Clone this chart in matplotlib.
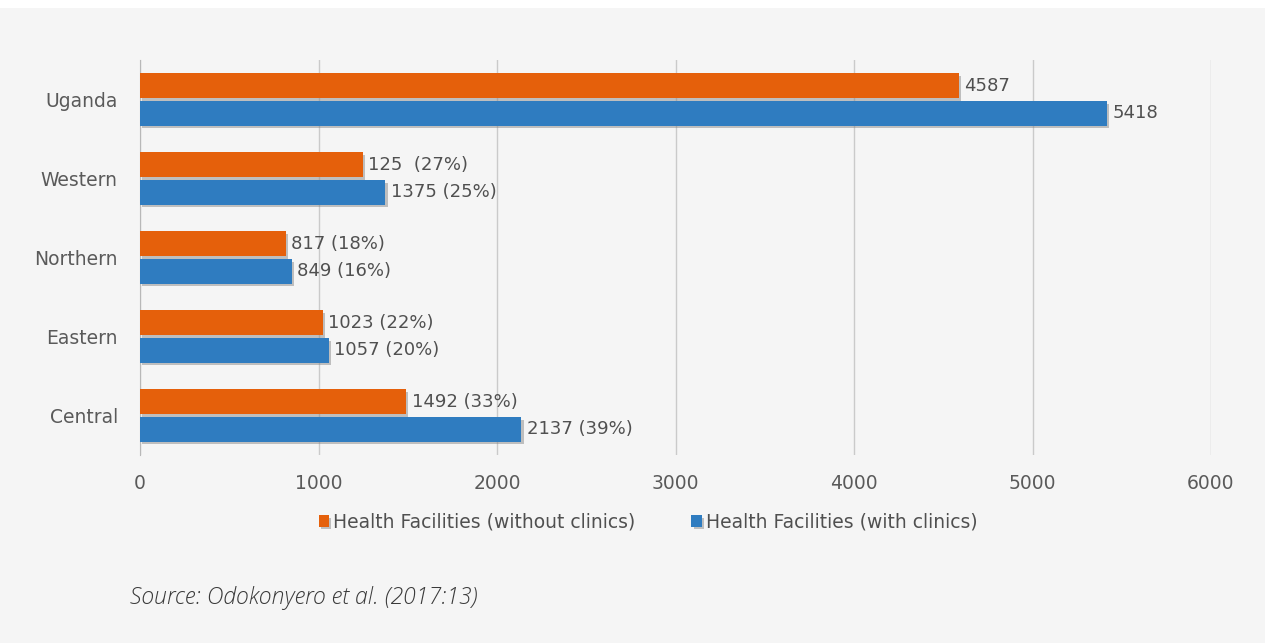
import matplotlib.pyplot as plt
import matplotlib.patheffects as pe
from matplotlib.patches import Rectangle
import numpy as np

regions = ["Uganda", "Western", "Northern", "Eastern", "Central"]
without_clinics = [4587, 1250, 817, 1023, 1492]
with_clinics = [5418, 1375, 849, 1057, 2137]
without_labels = ["4587", "125  (27%)", "817 (18%)", "1023 (22%)", "1492 (33%)"]
with_labels = ["5418", "1375 (25%)", "849 (16%)", "1057 (20%)", "2137 (39%)"]
xticks = [0, 1000, 2000, 3000, 4000, 5000, 6000]

orange = "#e5600b"
blue = "#2f7cc0"
bg = "#f5f5f5"

plt.rcParams["font.family"] = ["DejaVu Sans"]

fig = plt.figure(figsize=(12.65, 6.43), dpi=100, facecolor=bg)
fig.patches.append(Rectangle((0, 1 - 8 / 643), 1, 8 / 643, transform=fig.transFigure,
                             facecolor="white", edgecolor="none", zorder=0))
ax = fig.add_axes([140 / 1265, 1 - 455 / 643, 1071 / 1265, 395 / 643])
ax.set_facecolor(bg)

y = np.arange(len(regions))
h = 0.31
shadow = [pe.SimplePatchShadow(offset=(1.5, -2), shadow_rgbFace="#888888", alpha=0.5), pe.Normal()]
b1 = ax.barh(y - h / 2 - 0.02, without_clinics, height=h, color=orange, zorder=3,
             label="Health Facilities (without clinics)", path_effects=shadow)
b2 = ax.barh(y + h / 2 + 0.02, with_clinics, height=h, color=blue, zorder=3,
             label="Health Facilities (with clinics)", path_effects=shadow)

for bars, labels in ((b1, without_labels), (b2, with_labels)):
    for bar, lab in zip(bars, labels):
        ax.text(bar.get_width() + 30, bar.get_y() + bar.get_height() / 2, lab,
                va="center", ha="left", fontsize=13, color="#505050", zorder=4)

ax.set_xlim(0, 6000)
ax.set_ylim(len(regions) - 0.5, -0.5)
ax.set_xticks(xticks)
ax.set_yticks(y)
ax.set_yticklabels(regions)
ax.tick_params(axis="both", length=0, labelsize=13.5, colors="#5a5a5a")
ax.tick_params(axis="x", pad=14)
ax.tick_params(axis="y", pad=16)
ax.grid(axis="x", color="#cacaca", linewidth=1, zorder=0)
for s in ("top", "right", "bottom"):
    ax.spines[s].set_visible(False)
ax.spines["left"].set_color("#b8b8b8")

fig.legend(handles=[b1, b2], loc="center", bbox_to_anchor=(648 / 1265, 1 - 522 / 643),
           ncol=2, frameon=False, fontsize=13.5, labelcolor="#505050", handlelength=0.55,
           handleheight=0.55, handletextpad=0.2, columnspacing=3.0)

fig.text(130 / 1265, 1 - 598 / 643, "Source: Odokonyero et al. (2017:13)", fontsize=16.6,
         style="italic", weight="light", color="#3a3a3a", va="center", ha="left",
         family=["Open Sans", "DejaVu Sans"])

fig.savefig("out.png", dpi=100, facecolor=bg)
